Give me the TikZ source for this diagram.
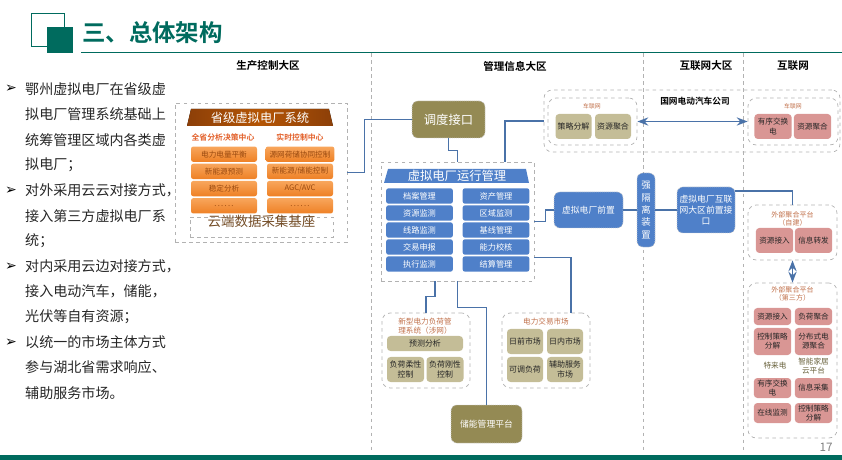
\documentclass[tikz,border=0pt]{standalone}
\usepackage{fontspec}
\setmainfont{Noto Sans CJK SC}[BoldFont={* Bold}]
\newfontfamily\arrowfont{DejaVu Sans}
\usepackage{tikz}
\usetikzlibrary{arrows.meta, calc, fit, positioning}

\definecolor{titlegreen}{HTML}{006B5E}
\definecolor{linkblue}{HTML}{4A72A8}
\definecolor{boxblue}{HTML}{4F80C9}
\definecolor{olivedark}{HTML}{948A54}
\definecolor{olivelight}{HTML}{C4BD97}
\definecolor{pinkbox}{HTML}{D99694}
\definecolor{orangetop}{HTML}{F8A65C}
\definecolor{orangebot}{HTML}{EE8025}
\definecolor{orangetext}{HTML}{9A4A10}
\definecolor{brownhead}{HTML}{8C3F08}
\definecolor{subred}{HTML}{E2602A}
\definecolor{captbrown}{HTML}{C0704A}
\definecolor{bodytext}{HTML}{262626}

\newcommand{\sixdots}{.\,.\,.\,.\,.\,.}

\tikzset{
  zone/.style={draw=gray!60, dashed, line width=0.6pt},
  area/.style={draw=gray!60, dashed, line width=0.6pt, inner sep=0pt},
  grp/.style={area, rounded corners=7pt},
  link/.style={draw=linkblue, line width=1.4pt},
  bigbox/.style={rounded corners=5pt, draw=gray!40, densely dotted, line width=0.7pt,
    text=white, align=center, inner sep=2pt},
  orbox/.style={top color=orangetop, bottom color=orangebot, rounded corners=2pt,
    minimum width=1.98cm, minimum height=0.46cm, text=orangetext,
    font=\fontsize{6.5}{7}\selectfont},
  bluebox/.style={fill=boxblue, rounded corners=2pt, minimum width=2.0cm,
    minimum height=0.46cm, text=white, font=\fontsize{7}{8}\selectfont},
  tanbox/.style={fill=olivelight, rounded corners=3pt, minimum width=1.08cm,
    minimum height=0.75cm, inner sep=1pt, align=center, text=bodytext,
    font=\fontsize{6.8}{8}\selectfont},
  rosebox/.style={fill=pinkbox, rounded corners=3pt, minimum width=1.12cm,
    minimum height=0.6cm, inner sep=1pt, align=center, text=bodytext,
    font=\fontsize{6.5}{7.8}\selectfont},
  capt/.style={text=captbrown, align=center, inner sep=0pt, font=\fontsize{6}{7}\selectfont},
  plain/.style={text=olivedark!70!black, align=center, inner sep=0pt, font=\fontsize{6.5}{7.8}\selectfont},
  zonehead/.style={font=\bfseries\fontsize{9}{10}\selectfont},
  para/.style={anchor=west, text=bodytext, inner sep=0pt, font=\fontsize{12}{14}\selectfont},
  bullet/.style={text=black, inner sep=0pt, font=\arrowfont\fontsize{12}{13}\selectfont},
}

\begin{document}
\begin{tikzpicture}[x=0.03cm, y=-0.03cm, >=Stealth]
  \useasboundingbox (0,0) rectangle (842,460);
  % title bar
  \draw[titlegreen, line width=0.8pt] (31,13) rectangle (64,46);
  \fill[titlegreen] (47,27) rectangle (73,53);
  \draw[titlegreen, line width=0.8pt] (81,52) -- (842,52);
  \node[anchor=west, inner sep=0pt, text=titlegreen, font=\bfseries\fontsize{20}{22}\selectfont]
    (title) at (82,33) {三、总体架构};
  \fill[titlegreen] (0,455) rectangle (842,460);
  \node[text=gray, font=\fontsize{10}{11}\selectfont] (pageno) at (826,447) {17};

  % zone borders
  \foreach \x in {371,643,743}
    \draw[zone] (\x,53) -- (\x,452);
  \node[zonehead] (zprod) at (268,66) {生产控制大区};
  \node[zonehead] (zmis) at (515,66) {管理信息大区};
  \node[zonehead] (zinet) at (706,66) {互联网大区};
  \node[zonehead] (zweb) at (793,66) {互联网};

  % left notes
  \foreach \t [count=\i from 0] in {鄂州虚拟电厂在省级虚, 拟电厂管理系统基础上,
      统筹管理区域内各类虚, 拟电厂；, 对外采用云云对接方式，, 接入第三方虚拟电厂系,
      统；, 对内采用云边对接方式，, 接入电动汽车，储能，, 光伏等自有资源；,
      以统一的市场主体方式, 参与湖北省需求响应、, 辅助服务市场。}
    \node[para] (line\i) at (25,{89+25.33*\i}) {\t};
  \foreach \i in {0,4,7,10}
    \node[bullet] (mark\i) at (11,{89+25.33*\i}) {➢};

  % province system
  \node[area, fit={(175,103) (347,242)}] (prov) {};
  \fill[left color=brownhead, right color=brownhead, middle color=brownhead!65!orange]
    (191,109) -- (329,109) -- (333,126) -- (187,126) -- cycle;
  \node[text=white, font=\fontsize{10.5}{12}\selectfont] (provhead) at (260,117.5) {省级虚拟电厂系统};
  \node[text=subred, font=\bfseries\fontsize{6.7}{8}\selectfont] (centA) at (223,137) {全省分析决策中心};
  \node[text=subred, font=\bfseries\fontsize{6.7}{8}\selectfont] (centB) at (300,137) {实时控制中心};
  \foreach \t [count=\i] in {电力电量平衡, 新能源预测, 稳定分析, \sixdots}
    \node[orbox] (pa\i) at (224,{137+17.2*\i}) {\t};
  \foreach \t [count=\i] in {源网荷储协同控制, 新能源/储能控制, AGC/AVC, \sixdots}
    \node[orbox] (pb\i) at (300,{137+17.2*\i}) {\t};
  \node[area, fit={(190,217) (333,237)}, text=brown!60!black, font=\fontsize{11.5}{13}\selectfont]
    (base) {云端数据采集基座};

  % dispatch interface
  \node[bigbox, fill=olivedark, minimum width=2.19cm, minimum height=1.11cm,
    font=\fontsize{10.5}{12}\selectfont] (dispatch) at (448.5,119.5) {调度接口};

  % operation management
  \node[area, fit={(381,162) (534,281)}] (ops) {};
  \fill[boxblue] (388,169) -- (526,169) -- (529,183) -- (384,183) -- cycle;
  \node[text=white, font=\fontsize{10.5}{12}\selectfont] (opshead) at (457,176) {虚拟电厂运行管理};
  \foreach \t [count=\i] in {档案管理, 资源监测, 线路监测, 交易申报, 执行监测}
    \node[bluebox] (oa\i) at (419.5,{179+17*\i}) {\t};
  \foreach \t [count=\i] in {资产管理, 区域监测, 基线管理, 能力校核, 结算管理}
    \node[bluebox] (ob\i) at (496,{179+17*\i}) {\t};

  % front ends
  \node[bigbox, fill=boxblue, minimum width=2.07cm, minimum height=1.08cm,
    font=\fontsize{7.5}{9}\selectfont] (front) at (588.5,210) {虚拟电厂前置};
  \node[bigbox, fill=boxblue, minimum width=0.54cm, minimum height=2.22cm, inner sep=0pt,
    font=\fontsize{8}{10.5}\selectfont] (iso) at (646,210) {强\\隔\\离\\装\\置};
  \node[bigbox, fill=boxblue, minimum width=1.74cm, minimum height=1.38cm,
    font=\fontsize{7.5}{9.5}\selectfont] (inet) at (706,210) {虚拟电厂互联\\网大区前置接\\口};

  % vehicle network
  \node[grp, fit={(544,90) (840,152)}] (evbig) {};
  \node[font=\bfseries\fontsize{7.4}{9}\selectfont] (sgcc) at (695,101) {国网电动汽车公司};
  \node[grp, fit={(548,98) (637,145)}] (evL) {};
  \node[capt, font=\fontsize{5}{6}\selectfont] (evLcap) at (592,106) {车联网};
  \node[tanbox] (evL1) at (573.5,126.5) {策略分解};
  \node[tanbox] (evL2) at (613,126.5) {资源聚合};
  \node[grp, fit={(748,98) (838,145)}] (evR) {};
  \node[capt, font=\fontsize{5}{6}\selectfont] (evRcap) at (793,106) {车联网};
  \node[rosebox, minimum height=0.75cm] (evR1) at (773,126.5) {有序交换\\电};
  \node[rosebox, minimum height=0.75cm] (evR2) at (812.5,126.5) {资源聚合};

  % external platforms
  \node[grp, fit={(748,205) (837,260)}] (selfb) {};
  \node[capt] (selfcap) at (792.5,219) {外部聚合平台\\（自建）};
  \node[rosebox, minimum height=0.75cm] (sb1) at (774.5,240.5) {资源接入};
  \node[rosebox, minimum height=0.75cm] (sb2) at (813.5,240.5) {信息转发};
  \node[grp, fit={(748,283) (837,438)}] (third) {};
  \node[capt] (thirdcap) at (792.5,294) {外部聚合平台\\（第三方）};
  \node[rosebox, minimum height=0.51cm] (tp1) at (772.5,316.5) {资源接入};
  \node[rosebox, minimum height=0.51cm] (tp2) at (813.5,316.5) {负荷聚合};
  \node[rosebox, minimum height=0.81cm] (tp3) at (772.5,341.5) {控制策略\\分解};
  \node[rosebox, minimum height=0.81cm] (tp4) at (813.5,341.5) {分布式电\\源聚合};
  \node[plain] (tp5) at (775,366) {特来电};
  \node[plain] (tp6) at (813.5,366) {智能家居\\云平台};
  \node[rosebox] (tp7) at (772.5,388) {有序交换\\电};
  \node[rosebox] (tp8) at (813.5,388) {信息采集};
  \node[rosebox] (tp9) at (772.5,413) {在线监测};
  \node[rosebox] (tp10) at (813.5,413) {控制策略\\分解};

  % load management
  \node[grp, fit={(382,313) (470,388)}] (load) {};
  \node[capt, font=\fontsize{6.5}{7.5}\selectfont] (loadcap) at (425,326) {新型电力负荷管\\理系统（涉网）};
  \node[tanbox, minimum width=2.28cm, minimum height=0.45cm] (ld1) at (425,343.5) {预测分析};
  \node[tanbox, minimum width=1.11cm] (ld2) at (405.5,369.5) {负荷柔性\\控制};
  \node[tanbox, minimum width=1.11cm] (ld3) at (445,369.5) {负荷刚性\\控制};

  % power market
  \node[grp, fit={(502,313) (590,388)}] (market) {};
  \node[capt, font=\fontsize{6.5}{7.5}\selectfont] (mktcap) at (546,322) {电力交易市场};
  \node[tanbox] (mk1) at (525,341.5) {日前市场};
  \node[tanbox] (mk2) at (565,341.5) {日内市场};
  \node[tanbox] (mk3) at (525,369.5) {可调负荷};
  \node[tanbox] (mk4) at (565,369.5) {辅助服务\\市场};

  % storage
  \node[bigbox, fill=olivedark, minimum width=2.13cm, minimum height=1.14cm,
    font=\fontsize{7.5}{9}\selectfont] (store) at (486.5,424) {储能管理平台};

  % links
  \draw[link] (prov.east) -- ++(17,0) |- (dispatch.west);
  \draw[link] (dispatch.south) -- ++(0,12) -| (ops.north);
  \draw[link] ($(ops.north)+(47.5,0)$) |- (evbig.west);
  \draw[link] (ops.east) -- ++(11,0) |- (front.west);
  \draw[link] (front.east) -- (iso.west);
  \draw[link] (iso.east) -- (inet.west);
  \draw[link] ($(inet.east)+(0,-19)$) -| (selfb.north);
  \draw[link] ($(ops.east)+(0,36)$) -| ($(market.north)+(25,0)$);
  \draw[link] ($(ops.south)+(-22.5,0)$) -- ++(0,15) -| (load.north);
  \draw[link] (ops.south) -- ++(0,26) -| (store.north);
  \draw[link, <->] (evL.east) -- (evR.west);
  \draw[link, <->] (selfb.south) -- (third.north);
\end{tikzpicture}
\end{document}
